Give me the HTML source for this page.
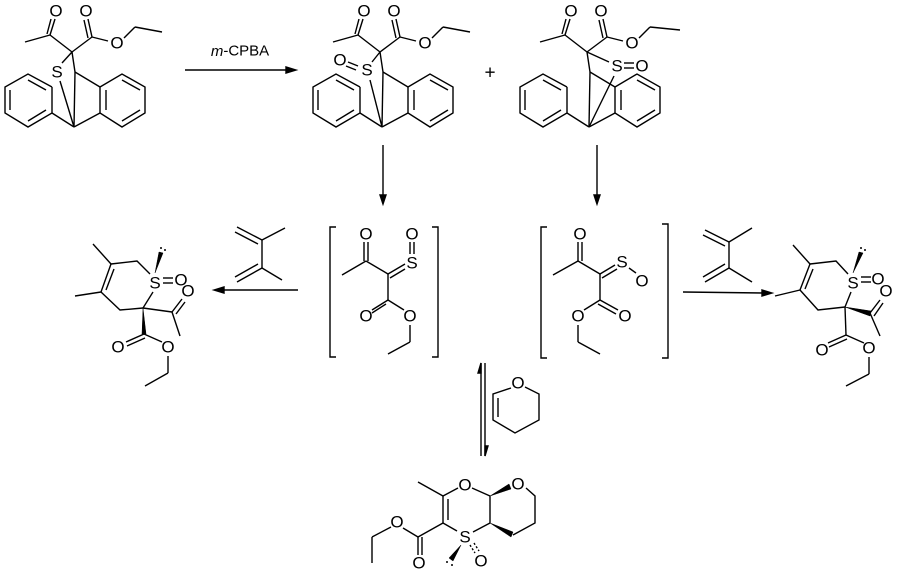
<!DOCTYPE html>
<html><head><meta charset="utf-8"><style>
html,body{margin:0;padding:0;background:#fff}
svg{display:block}
text{font-family:"Liberation Sans",sans-serif;font-size:17px;fill:#000;text-anchor:middle;dominant-baseline:central}
line,polyline,path{stroke:#000;stroke-width:1.4;fill:none}
</style></head><body>
<svg width="900" height="577" viewBox="0 0 900 577" xmlns="http://www.w3.org/2000/svg">
<defs>
<g id="add">
 <line x1="25" y1="42" x2="50" y2="35"/><line x1="50" y1="35" x2="55" y2="19"/><line x1="47" y1="34" x2="51" y2="19"/>
 <line x1="50" y1="35" x2="72" y2="52"/><line x1="72" y1="52" x2="92" y2="37"/>
 <line x1="92" y1="37" x2="88" y2="19"/><line x1="88" y1="38" x2="84" y2="20"/>
 <line x1="92" y1="37" x2="108" y2="41"/>
 <line x1="72" y1="52" x2="75" y2="72"/>
 <line x1="75" y1="72" x2="100" y2="87"/><line x1="75" y1="72" x2="74" y2="127"/>
 <polyline points="52,87 28,74 5,87 5,113 28,127 52,113 52,87"/>
 <line x1="28" y1="80" x2="46" y2="90"/><line x1="10" y1="90" x2="10" y2="110"/><line x1="28" y1="121" x2="46" y2="110"/>
 <polyline points="100,87 122,74 145,87 145,113 122,127 100,113 100,87"/>
 <line x1="122" y1="80" x2="140" y2="90"/><line x1="106" y1="90" x2="106" y2="110"/><line x1="122" y1="121" x2="140" y2="110"/>
 <line x1="52" y1="113" x2="74" y2="127"/><line x1="100" y1="113" x2="74" y2="127"/>
</g>
</defs>
<use href="#add"/>
<text x="56" y="11">O</text><text x="86" y="11">O</text><text x="117" y="43">O</text>
<line x1="124" y1="38" x2="135" y2="27"/><line x1="135" y1="27" x2="162" y2="32"/>
<text x="57" y="72">S</text>
<line x1="72" y1="52" x2="62" y2="63"/>
<line x1="60" y1="81" x2="74" y2="127"/>
<line x1="185" y1="70" x2="290" y2="70"/><path d="M296,70 L286,67 L286,73 Z" style="fill:#000"/>
<text x="240" y="51" style="font-size:15px"><tspan font-style="italic">m</tspan>-CPBA</text>
<use href="#add" transform="translate(308,0)"/>
<text x="364" y="11">O</text><text x="394" y="11">O</text><text x="425" y="43">O</text>
<line x1="432" y1="38" x2="443" y2="27"/><line x1="443" y1="27" x2="470" y2="32"/>
<text x="367" y="70">S</text><text x="340" y="60">O</text>
<line x1="348" y1="62" x2="358" y2="66"/><line x1="346" y1="66" x2="356" y2="70"/>
<line x1="380" y1="52" x2="372" y2="62"/><line x1="370" y1="80" x2="382" y2="127"/>
<text x="490" y="73" style="font-size:19px">+</text>
<use href="#add" transform="translate(515,0)"/>
<text x="571" y="11">O</text><text x="601" y="11">O</text><text x="632" y="43">O</text>
<line x1="639" y1="38" x2="650" y2="27"/><line x1="650" y1="27" x2="680" y2="30"/>
<text x="617" y="66">S</text><text x="642" y="66">O</text>
<line x1="624" y1="63" x2="634" y2="63"/><line x1="624" y1="68" x2="634" y2="68"/>
<line x1="587" y1="52" x2="609" y2="62"/><line x1="614" y1="76" x2="589" y2="127"/>
<line x1="383" y1="145" x2="383" y2="198"/><path d="M383,204 L380,195 L386,195 Z" style="fill:#000"/>
<line x1="597" y1="145" x2="597" y2="198"/><path d="M597,204 L594,195 L600,195 Z" style="fill:#000"/>
<polyline points="336,227 330,227 330,357 336,357"/><polyline points="432,227 438,227 438,357 432,357"/>
<polyline points="547,227 541,227 541,358 547,358"/><polyline points="662,224 668,224 668,358 662,358"/>
<text x="366" y="234">O</text>
<line x1="364" y1="242" x2="364" y2="261"/><line x1="368" y1="242" x2="368" y2="261"/>
<line x1="342" y1="275" x2="366" y2="261"/><line x1="366" y1="261" x2="388" y2="274"/>
<line x1="388" y1="274" x2="405" y2="264"/><line x1="390" y1="278" x2="405" y2="269"/>
<text x="412" y="263">S</text><text x="412" y="234">O</text>
<line x1="410" y1="242" x2="410" y2="254"/><line x1="414" y1="242" x2="414" y2="254"/>
<line x1="388" y1="274" x2="388" y2="300"/>
<line x1="388" y1="300" x2="372" y2="310"/><line x1="386" y1="304" x2="372" y2="313"/>
<text x="366" y="316">O</text>
<line x1="388" y1="300" x2="404" y2="310"/><text x="410" y="316">O</text>
<line x1="410" y1="325" x2="410" y2="342"/><line x1="410" y1="342" x2="388" y2="354"/>
<text x="580" y="234">O</text>
<line x1="578" y1="242" x2="578" y2="261"/><line x1="582" y1="242" x2="582" y2="261"/>
<line x1="553" y1="275" x2="578" y2="261"/><line x1="578" y1="261" x2="600" y2="274"/>
<line x1="600" y1="274" x2="615" y2="265"/><line x1="602" y1="278" x2="617" y2="269"/>
<text x="622" y="262">S</text><text x="642" y="281">O</text>
<line x1="629" y1="268" x2="636" y2="273"/>
<line x1="600" y1="274" x2="600" y2="300"/>
<line x1="600" y1="300" x2="584" y2="310"/>
<line x1="600" y1="300" x2="618" y2="310"/><line x1="598" y1="304" x2="616" y2="314"/>
<text x="578" y="316">O</text><text x="625" y="316">O</text>
<line x1="578" y1="325" x2="578" y2="342"/><line x1="578" y1="342" x2="600" y2="354"/>
<line x1="298" y1="290" x2="222" y2="290"/><path d="M214,290 L224,287 L224,293 Z" style="fill:#000"/>
<line x1="683" y1="292" x2="764" y2="293"/><path d="M772,293 L762,290 L762,296 Z" style="fill:#000"/>
<line x1="237" y1="227" x2="262" y2="240"/><line x1="235" y1="232" x2="258" y2="244"/>
<line x1="262" y1="240" x2="285" y2="228"/><line x1="262" y1="240" x2="262" y2="268"/>
<line x1="262" y1="268" x2="237" y2="282"/><line x1="258" y1="264" x2="235" y2="277"/><line x1="262" y1="268" x2="282" y2="280"/>
<line x1="705" y1="230" x2="729" y2="242"/><line x1="703" y1="235" x2="725" y2="246"/>
<line x1="729" y1="242" x2="752" y2="228"/><line x1="729" y1="242" x2="729" y2="268"/>
<line x1="729" y1="268" x2="705" y2="282"/><line x1="725" y1="264" x2="703" y2="277"/><line x1="729" y1="268" x2="752" y2="282"/>
<line x1="93" y1="244" x2="111" y2="264"/>
<polyline points="111,264 137,261 150,274"/>
<text x="155" y="283">S</text>
<line x1="153" y1="292" x2="143" y2="308"/><polyline points="143,308 120,310 101,292"/>
<line x1="101" y1="292" x2="111" y2="264"/><line x1="106" y1="290" x2="114" y2="269"/>
<line x1="75" y1="296" x2="101" y2="292"/>
<line x1="163" y1="278" x2="173" y2="278"/><line x1="163" y1="283" x2="173" y2="283"/>
<text x="181" y="280">O</text>
<path d="M155,273 L159,252 L163,253 Z" style="fill:#000;stroke-width:0.5"/>
<circle cx="161" cy="248" r="1" fill="#000"/><circle cx="165" cy="250" r="1" fill="#000"/>
<path d="M143,308 L142,334 L146,334 Z" style="fill:#000;stroke-width:0.5"/>
<line x1="144" y1="334" x2="126" y2="342"/><line x1="145" y1="338" x2="127" y2="346"/>
<text x="118" y="347">O</text>
<line x1="144" y1="334" x2="162" y2="342"/><text x="168" y="347">O</text>
<line x1="168" y1="356" x2="168" y2="373"/><line x1="168" y1="373" x2="145" y2="386"/>
<line x1="143" y1="308" x2="172" y2="312"/>
<line x1="172" y1="312" x2="182" y2="299"/><line x1="176" y1="314" x2="185" y2="302"/>
<text x="188" y="291">O</text><line x1="172" y1="312" x2="180" y2="336"/>
<line x1="793" y1="245" x2="810" y2="264"/>
<polyline points="810,264 836,261 848,274"/>
<text x="853" y="283">S</text>
<line x1="851" y1="292" x2="845" y2="307"/><polyline points="845,307 818,310 800,290"/>
<line x1="800" y1="290" x2="810" y2="264"/><line x1="805" y1="289" x2="813" y2="269"/>
<line x1="775" y1="296" x2="800" y2="290"/>
<line x1="861" y1="277" x2="871" y2="277"/><line x1="861" y1="282" x2="871" y2="282"/>
<text x="878" y="279">O</text>
<path d="M853,273 L859,252 L863,253 Z" style="fill:#000;stroke-width:0.5"/>
<circle cx="861" cy="248" r="1" fill="#000"/><circle cx="865" cy="250" r="1" fill="#000"/>
<path d="M845,307 L871,311 L870,316 Z" style="fill:#000;stroke-width:0.5"/>
<line x1="870" y1="313" x2="880" y2="300"/><line x1="874" y1="316" x2="883" y2="303"/>
<text x="886" y="291">O</text><line x1="870" y1="313" x2="880" y2="336"/>
<line x1="845" y1="307" x2="846" y2="335"/>
<line x1="846" y1="335" x2="828" y2="343"/><line x1="847" y1="339" x2="829" y2="347"/>
<text x="822" y="350">O</text>
<line x1="846" y1="335" x2="864" y2="343"/><text x="869" y="348">O</text>
<line x1="869" y1="357" x2="869" y2="374"/><line x1="869" y1="374" x2="846" y2="386"/>
<line x1="481" y1="363" x2="481" y2="456"/><path d="M481,363 L478,373 L481,373 Z" style="fill:#000"/>
<line x1="485" y1="363" x2="485" y2="456"/><path d="M485,456 L488,446 L485,446 Z" style="fill:#000"/>
<text x="518" y="383">O</text>
<polyline points="511,388 493,394 493,420 515,433 539,420 539,394 525,387"/>
<line x1="498" y1="398" x2="498" y2="417"/>
<line x1="418" y1="482" x2="443" y2="496"/>
<line x1="443" y1="496" x2="458" y2="488"/><text x="465" y="485">O</text>
<line x1="472" y1="488" x2="490" y2="496"/>
<path d="M490,496 L509,484 L511,489 Z" style="fill:#000;stroke-width:0.5"/>
<text x="518" y="484">O</text>
<polyline points="526,488 535,496 535,523 513,535"/>
<path d="M490,523 L513,532 L511,537 Z" style="fill:#000;stroke-width:0.5"/>
<line x1="490" y1="496" x2="490" y2="523"/>
<line x1="490" y1="523" x2="473" y2="532"/>
<text x="465" y="537">S</text>
<line x1="457" y1="531" x2="443" y2="523"/>
<line x1="443" y1="523" x2="443" y2="496"/><line x1="448" y1="520" x2="448" y2="499"/>
<line x1="443" y1="523" x2="418" y2="537"/>
<line x1="418" y1="537" x2="418" y2="555"/><line x1="422" y1="537" x2="422" y2="555"/>
<text x="419" y="563">O</text>
<line x1="418" y1="537" x2="403" y2="528"/><text x="397" y="522">O</text>
<line x1="391" y1="527" x2="372" y2="537"/><line x1="372" y1="537" x2="372" y2="563"/>
<line x1="470" y1="545" x2="475" y2="553" stroke-dasharray="2,2"/><line x1="474" y1="543" x2="479" y2="551" stroke-dasharray="2,2"/>
<text x="481" y="561">O</text>
<path d="M461,545 L449,558 L453,561 Z" style="fill:#000;stroke-width:0.5"/>
<circle cx="447" cy="562" r="1" fill="#000"/><circle cx="452" cy="565" r="1" fill="#000"/>
</svg>
</body></html>
